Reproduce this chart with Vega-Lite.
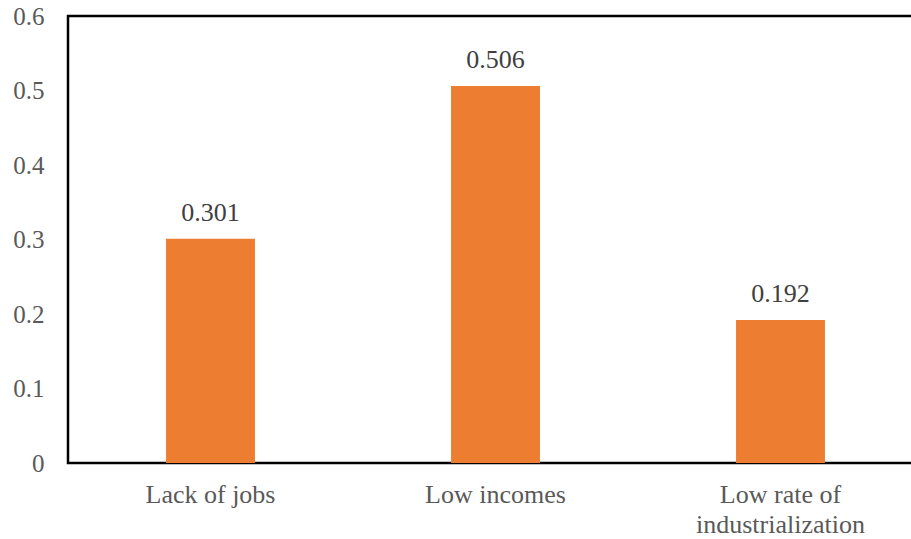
{
  "$schema": "https://vega.github.io/schema/vega-lite/v6.json",
  "autosize": {"type": "none"},
  "padding": {"left": 68, "top": 16, "right": 0, "bottom": 76},
  "width": 855,
  "height": 447,
  "background": "white",
  "view": {"stroke": "black", "strokeWidth": 2.5},
  "config": {
    "font": "Liberation Serif"
  },
  "data": {
    "values": [
      {"category": "Lack of jobs", "value": 0.301},
      {"category": "Low incomes", "value": 0.506},
      {"category": "Low rate of industrialization", "value": 0.192}
    ]
  },
  "encoding": {
    "x": {
      "field": "category",
      "type": "nominal",
      "sort": null,
      "scale": {"paddingInner": 0.688, "paddingOuter": 0.344},
      "axis": {
        "title": null,
        "labelAngle": 0,
        "domain": false,
        "ticks": false,
        "labelFont": "Liberation Serif",
        "labelFontSize": 26,
        "labelColor": "#595959",
        "labelPadding": 18,
        "labelLineHeight": 30,
        "labelExpr": "datum.label == 'Low rate of industrialization' ? ['Low rate of', 'industrialization'] : datum.label"
      }
    },
    "y": {
      "field": "value",
      "type": "quantitative",
      "scale": {"domain": [0, 0.6], "nice": false},
      "axis": {
        "title": null,
        "values": [0, 0.1, 0.2, 0.3, 0.4, 0.5, 0.6],
        "format": "~g",
        "grid": false,
        "domain": false,
        "ticks": false,
        "labelFont": "Liberation Serif",
        "labelFontSize": 25,
        "labelColor": "#595959",
        "labelPadding": 24
      }
    }
  },
  "layer": [
    {"mark": {"type": "bar", "color": "#ED7D31"}},
    {
      "mark": {"type": "text", "dy": -26, "font": "Liberation Serif", "fontSize": 26, "color": "#404040"},
      "encoding": {"text": {"field": "value", "type": "quantitative", "format": ".3f"}}
    }
  ]
}
